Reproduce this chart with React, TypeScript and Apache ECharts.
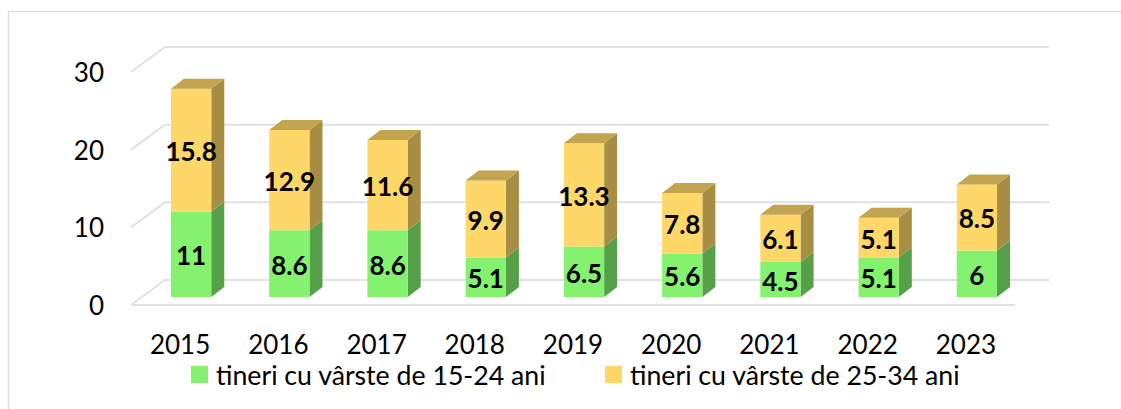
import React, { useEffect, useRef } from "react";
import * as echarts from "echarts";

const categories = ["2015", "2016", "2017", "2018", "2019", "2020", "2021", "2022", "2023"];
const young1524 = [11, 8.6, 8.6, 5.1, 6.5, 5.6, 4.5, 5.1, 6];
const young2534 = [15.8, 12.9, 11.6, 9.9, 13.3, 7.8, 6.1, 5.1, 8.5];
const yTicks = [0, 10, 20, 30];
const seriesNames = ["tineri cu vârste de 15-24 ani", "tineri cu vârste de 25-34 ani"];

const FONT = "Lato, 'Open Sans', sans-serif";
const GREEN = { front: "#85F26F", side: "#56A04A", top: "#6DC85B" };
const YELLOW = { front: "#FDD767", side: "#A88E42", top: "#C3A54F" };
const GRID_COLOR = "#DFE2E8";
const WALL = [34, -25];
const BAR_FRONT = [11, -8];
const BAR_DEPTH = [13, -10];

function barRenderer(colors: any, drawTop: boolean) {
  return (params: any, api: any) => {
    const idx = api.value(0);
    const base = api.value(1);
    const top = api.value(2);
    const val = api.value(3);
    const band = api.size([1, 0])[0];
    const w = band * 0.41;
    const p0 = api.coord([idx, base]);
    const p1 = api.coord([idx, top]);
    const cx = p0[0] + BAR_FRONT[0];
    const L = cx - w / 2;
    const R = cx + w / 2;
    const B = p0[1] + BAR_FRONT[1];
    const T = p1[1] + BAR_FRONT[1];
    const dx = BAR_DEPTH[0];
    const dy = BAR_DEPTH[1];
    const children: any[] = [
      {
        type: "polygon",
        shape: { points: [[R, B], [R + dx, B + dy], [R + dx, T + dy], [R, T]] },
        style: { fill: colors.side },
      },
      {
        type: "rect",
        shape: { x: L, y: T, width: R - L, height: B - T },
        style: { fill: colors.front },
      },
    ];
    if (drawTop) {
      children.push({
        type: "polygon",
        shape: { points: [[L, T], [R, T], [R + dx, T + dy], [L + dx, T + dy]] },
        style: { fill: colors.top },
      });
    }
    children.push({
      type: "text",
      style: {
        text: String(val),
        x: cx,
        y: (T + B) / 2 + 1,
        align: "center",
        verticalAlign: "middle",
        textAlign: "center",
        textVerticalAlign: "middle",
        fontSize: 26,
        fontWeight: "bold",
        fontFamily: FONT,
        fill: "#000",
      },
    });
    return { type: "group", children };
  };
}

export default function App() {
  const ref = useRef<HTMLDivElement>(null);
  useEffect(() => {
    if (!ref.current) return;
    const chart = echarts.init(ref.current, null, { renderer: "svg" });
    const greenData = categories.map((_, i) => [i, 0, young1524[i], young1524[i]]);
    const yellowData = categories.map((_, i) => [
      i,
      young1524[i],
      young1524[i] + young2534[i],
      young2534[i],
    ]);
    const n = categories.length;
    const legendText = {
      fontSize: 26.7,
      fontFamily: FONT,
      color: "#000",
      lineHeight: 22,
      padding: [0, 0, 0, 3],
    };
    chart.setOption({
      animation: false,
      graphic: [
        {
          type: "rect",
          shape: { x: 8.5, y: 11.5, width: 1200, height: 500 },
          style: { fill: "none", stroke: "#DADEE5", lineWidth: 1.5 },
          z: -10,
        },
      ],
      grid: { left: 131, top: 72, width: 884, height: 233 },
      legend: [
        {
          data: [seriesNames[0]],
          left: 191,
          top: 361,
          padding: 0,
          icon: "rect",
          itemWidth: 17,
          itemHeight: 17,
          textStyle: legendText,
        },
        {
          data: [seriesNames[1]],
          left: 605,
          top: 361,
          padding: 0,
          icon: "rect",
          itemWidth: 17,
          itemHeight: 17,
          textStyle: legendText,
        },
      ],
      xAxis: {
        type: "category",
        data: categories,
        axisLine: { show: false },
        axisTick: { show: false },
        axisLabel: { fontSize: 26, fontFamily: FONT, color: "#000", margin: 29, lineHeight: 20 },
        splitLine: { show: false },
      },
      yAxis: {
        type: "value",
        min: 0,
        max: 30,
        interval: 10,
        axisLine: { show: false },
        axisTick: { show: false },
        splitLine: { show: false },
        axisLabel: { fontSize: 26, fontFamily: FONT, color: "#000", margin: 27 },
      },
      series: [
        {
          type: "custom",
          name: "grid",
          silent: true,
          z: 1,
          data: yTicks.map((v) => [0, v]),
          renderItem: (params: any, api: any) => {
            const v = api.value(1);
            const band = api.size([1, 0])[0];
            const pl = api.coord([0, v]);
            const pr = api.coord([n - 1, v]);
            const Lx = pl[0] - band / 2;
            const Rx = pr[0] + band / 2;
            const y = pl[1];
            const children: any[] = [
              {
                type: "polyline",
                shape: {
                  points: [
                    [Lx, y],
                    [Lx + WALL[0], y + WALL[1]],
                    [Rx + WALL[0], y + WALL[1]],
                  ],
                },
                style: { stroke: GRID_COLOR, lineWidth: 2, fill: "none" },
              },
            ];
            if (v === 0) {
              children.push({
                type: "line",
                shape: { x1: Lx, y1: y, x2: Rx, y2: y },
                style: { stroke: GRID_COLOR, lineWidth: 2 },
              });
            }
            return { type: "group", children };
          },
        },
        {
          type: "custom",
          name: seriesNames[0],
          z: 2,
          itemStyle: { color: GREEN.front },
          data: greenData,
          renderItem: barRenderer(GREEN, false),
        },
        {
          type: "custom",
          name: seriesNames[1],
          z: 3,
          itemStyle: { color: YELLOW.front },
          data: yellowData,
          renderItem: barRenderer(YELLOW, true),
        },
      ],
    });
    return () => chart.dispose();
  }, []);
  return (
    <div
      ref={ref}
      style={{ position: "fixed", left: 0, top: 0, width: 1121, height: 409, background: "#fff" }}
    />
  );
}
